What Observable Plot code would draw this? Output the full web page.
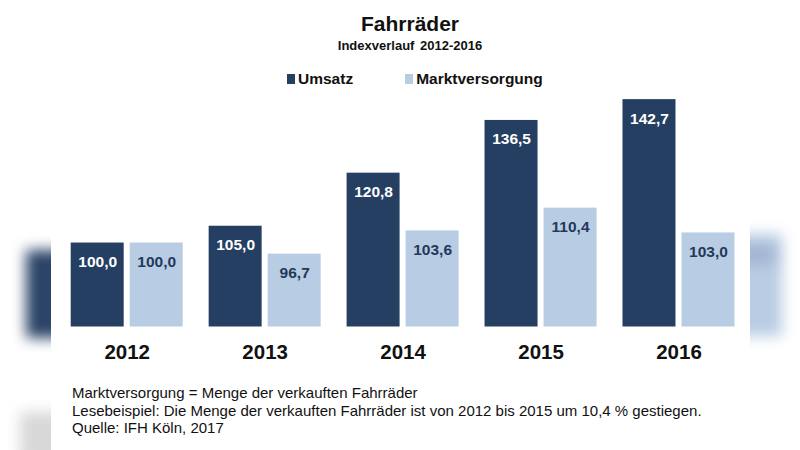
<!DOCTYPE html>
<html>
<head>
<meta charset="utf-8">
<script src="https://cdn.jsdelivr.net/npm/d3@7"></script>
<script src="https://cdn.jsdelivr.net/npm/@observablehq/plot@0.6"></script>
<style>
  html, body { margin: 0; padding: 0; background: #fff; }
  #page { position: relative; width: 800px; height: 450px; overflow: hidden; font-family: "Liberation Sans", Arial, sans-serif; color: #111; }
  .abs { position: absolute; }
  #title { left: 0; width: 820px; top: 12px; text-align: center; font-size: 21px; font-weight: bold; }
  #subtitle { left: 0; width: 820px; top: 38px; text-align: center; font-size: 13px; font-weight: bold; word-spacing: 2px; }
  #legend { left: 287px; top: 70px; font-size: 15.5px; font-weight: bold; display: flex; align-items: center; white-space: nowrap; }
  .sw { display: inline-block; width: 8px; height: 10px; margin-right: 3px; }
  #caption { left: 72px; top: 384px; font-size: 15px; line-height: 17.5px; }
  #chart { left: 0; top: 60px; }
  .edge { position: absolute; top: 0; height: 450px; overflow: hidden; }
  .blur { position: absolute; filter: blur(7px); }
</style>
</head>
<body>
<div id="page">
  <div class="edge" style="left:0;width:51px;">
    <div class="blur" style="left:26px;top:250px;width:60px;height:88px;background:#2b4467;"></div>
    <div class="blur" style="left:20px;top:412px;width:60px;height:50px;background:#d8d8d8;"></div>
  </div>
  <div class="edge" style="left:750px;width:50px;">
    <div class="blur" style="left:-20px;top:234px;width:52px;height:102px;background:#b9cce3;"></div>
    <div class="blur" style="left:-10px;top:246px;width:34px;height:18px;background:#9fb3cf;"></div>
  </div>
  <div id="title" class="abs">Fahrräder</div>
  <div id="subtitle" class="abs">Indexverlauf  2012-2016</div>
  <div id="legend" class="abs"></div>
  <div id="chart" class="abs"></div>
  <div id="caption" class="abs">
    Marktversorgung = Menge der verkauften Fahrräder<br>
    Lesebeispiel: Die Menge der verkauften Fahrräder ist von 2012 bis 2015 um 10,4 % gestiegen.<br>
    Quelle: IFH Köln, 2017
  </div>
</div>
<script>
const years = ["2012", "2013", "2014", "2015", "2016"];
const series = ["Umsatz", "Marktversorgung"];
const umsatz = [100.0, 105.0, 120.8, 136.5, 142.7];
const marktversorgung = [100.0, 96.7, 103.6, 110.4, 103.0];
const colors = ["#253f62", "#b8cce4"];
const labelColors = ["#ffffff", "#23395a"];
const yDomain = [75, 150];

const data = years.flatMap((year, i) => [
  {year, series: series[0], value: umsatz[i]},
  {year, series: series[1], value: marktversorgung[i]}
]);
const fmt = v => v.toFixed(1).replace(".", ",");

// legend
const legend = document.getElementById("legend");
series.forEach((s, i) => {
  const item = document.createElement("span");
  item.style.display = "inline-flex";
  item.style.alignItems = "center";
  item.style.marginRight = i === 0 ? "52px" : "0";
  const sw = document.createElement("span");
  sw.className = "sw";
  sw.style.background = colors[i];
  item.appendChild(sw);
  item.appendChild(document.createTextNode(s));
  legend.appendChild(item);
});

const chart = Plot.plot({
  width: 800,
  height: 320,
  marginLeft: 70.7,
  marginRight: 65.5,
  marginTop: 14.6,
  marginBottom: 53.5,
  style: {fontFamily: "Liberation Sans, Arial, sans-serif", background: "transparent", overflow: "visible"},
  fx: {domain: years, paddingInner: 0.188, paddingOuter: 0, round: false, label: null},
  x: {domain: series, paddingInner: 0.102, paddingOuter: 0, round: false, axis: null},
  y: {domain: yDomain, axis: null},
  color: {domain: series, range: colors},
  marks: [
    Plot.barY(data, {fx: "year", x: "series", y1: yDomain[0], y2: "value", fill: "series"}),
    Plot.text(data, {
      fx: "year", x: "series", y: "value", dy: 19,
      text: d => fmt(d.value),
      fill: d => labelColors[series.indexOf(d.series)],
      fontSize: 15.5, fontWeight: "bold"
    }),
    Plot.axisFx({anchor: "bottom", tickSize: 0, tickPadding: 17, fontSize: 20.5, fontWeight: "bold", fill: "#111", label: null})
  ]
});
document.getElementById("chart").appendChild(chart);
</script>
</body>
</html>
